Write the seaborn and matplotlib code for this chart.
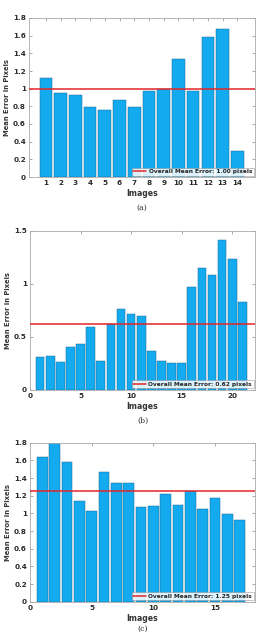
import numpy as np
import pandas as pd
import matplotlib
matplotlib.use('Agg')
import matplotlib.pyplot as plt
import seaborn as sns

# mean reprojection error per image, three calibration sets
images_a = list(range(1, 15))
err_a = [1.12, 0.955, 0.93, 0.79, 0.76, 0.875, 0.79, 0.978, 1.0, 1.334, 0.97, 1.58, 1.68, 0.30]
mean_a = 1.00

images_b = list(range(1, 22))
err_b = [0.31, 0.318, 0.264, 0.40, 0.43, 0.588, 0.274, 0.623, 0.758, 0.717, 0.70,
         0.362, 0.267, 0.25, 0.25, 0.965, 1.148, 1.08, 1.41, 1.233, 0.83]
mean_b = 0.62

images_c = list(range(1, 18))
err_c = [1.638, 1.80, 1.58, 1.143, 1.03, 1.47, 1.34, 1.34, 1.068, 1.08, 1.22,
         1.10, 1.257, 1.053, 1.174, 0.996, 0.928]
mean_c = 1.25

sns.set_style('ticks')
plt.rcParams['font.family'] = ['DejaVu Sans']

BAR = '#14aaf0'
EDGE = '#1d6d96'
RED = '#e4262a'
W, H = 261, 639


def panel(ax, images, err, mean, ylim, yticks, yticklabels, xlim, xticks, caption):
    df = pd.DataFrame({'img': images, 'err': err})
    sns.barplot(data=df, x='img', y='err', native_scale=True, width=0.86,
                color=BAR, edgecolor=EDGE, linewidth=0.35, saturation=1, ax=ax)
    ax.axhline(mean, color=RED, lw=1.1, label=f'Overall Mean Error: {mean:.2f} pixels', zorder=5)
    ax.set_xlim(*xlim)
    ax.set_ylim(*ylim)
    ax.set_yticks(yticks)
    ax.set_yticklabels(yticklabels)
    ax.set_xticks(xticks)
    ax.set_xticklabels([str(t) for t in xticks])
    for s in ax.spines.values():
        s.set_visible(True)
        s.set_color('#a8a8a8')
        s.set_linewidth(0.6)
    ax.tick_params(direction='in', length=2, width=0.5, color='#888888',
                   labelsize=5.2, labelcolor='#2b2b2b', pad=2.2,
                   top=True, right=True)
    for lab in ax.get_xticklabels() + ax.get_yticklabels():
        lab.set_fontweight('bold')
    ax.set_xlabel('Images', fontsize=5.6, fontweight='bold', color='#333333', labelpad=2)
    ax.set_ylabel('Mean Error in Pixels', fontsize=4.9, fontweight='bold', color='#333333', labelpad=2)
    leg = ax.legend(loc='lower right', frameon=True, handlelength=2.2,
                    borderpad=0.25, handletextpad=0.4, borderaxespad=0.25,
                    fancybox=False, framealpha=0.85, edgecolor='#888888',
                    prop={'weight': 'bold', 'size': 4.2})
    leg.get_frame().set_linewidth(0.4)
    for t in leg.get_texts():
        t.set_color('#222222')
    ax.text(0.5, caption[1], caption[0], transform=ax.transAxes, ha='center', va='center',
            fontsize=5.6, family='DejaVu Serif', color='#333333')


fig = plt.figure(figsize=(W / 100, H / 100), dpi=100)

ax_a = fig.add_axes([29 / W, (H - 177) / H, 226 / W, 159 / H])
panel(ax_a, images_a, err_a, mean_a, (0, 1.8), np.arange(0, 1.81, 0.2),
      ['0', '0.2', '0.4', '0.6', '0.8', '1', '1.2', '1.4', '1.6', '1.8'],
      (-0.15, 15.2), images_a, ('(a)', -0.195))

ax_b = fig.add_axes([30 / W, (H - 389.7) / H, 225 / W, 159 / H])
panel(ax_b, images_b, err_b, mean_b, (0, 1.5), [0, 0.5, 1, 1.5],
      ['0', '0.5', '1', '1.5'], (0, 22.25), [0, 5, 10, 15, 20], ('(b)', -0.195))

ax_c = fig.add_axes([30 / W, (H - 601.7) / H, 225 / W, 159 / H])
panel(ax_c, images_c, err_c, mean_c, (0, 1.8), np.arange(0, 1.81, 0.2),
      ['0', '0.2', '0.4', '0.6', '0.8', '1', '1.2', '1.4', '1.6', '1.8'],
      (0, 18.24), [0, 5, 10, 15], ('(c)', -0.17))

fig.savefig('out.png', dpi=100)
